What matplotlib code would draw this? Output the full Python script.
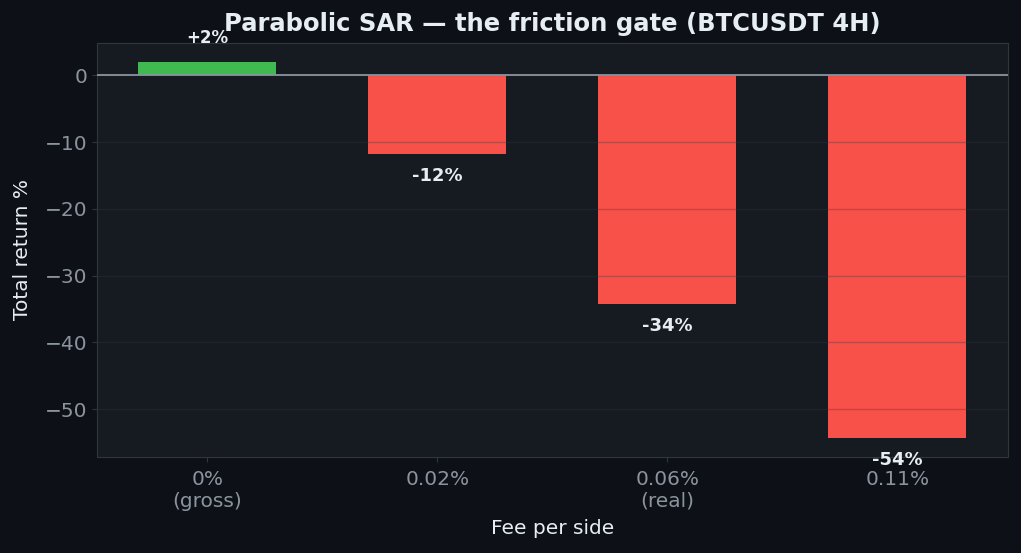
import matplotlib
matplotlib.use("Agg")
import matplotlib.pyplot as plt

categories = ["0%\n(gross)", "0.02%", "0.06%\n(real)", "0.11%"]
returns = [2.0, -11.8, -34.2, -54.3]
labels = ["+2%", "-12%", "-34%", "-54%"]

FIG_BG = "#0d1117"
AX_BG = "#161b22"
GREEN = "#3fb950"
RED = "#f85149"
TXT = "#e6edf3"
MUTED = "#8b949e"
EDGE = "#30363d"

fig = plt.figure(figsize=(10.21, 5.53), dpi=100, facecolor=FIG_BG)
ax = fig.add_axes([0.095, 0.174, 0.892, 0.748])
ax.set_facecolor(AX_BG)

x = list(range(len(categories)))
colors = [GREEN if v >= 0 else RED for v in returns]
ax.bar(x, returns, width=0.6, color=colors, zorder=1)
ax.axhline(0, color=MUTED, lw=1.3, zorder=3)
ax.grid(axis="y", color="#30363d", alpha=0.3, lw=1.0, zorder=2)
ax.set_axisbelow(False)
ax.xaxis.grid(False)

for xi, v, lab in zip(x, returns, labels):
    if v >= 0:
        ax.text(xi, v + 2.3, lab, ha="center", va="bottom", color=TXT,
                fontsize=12, fontweight="bold", zorder=4)
    else:
        ax.text(xi, v - 2.0, lab, ha="center", va="top", color=TXT,
                fontsize=13, fontweight="bold", zorder=4)

ax.set_xticks(x)
ax.set_xticklabels(categories, linespacing=1.2)
ax.tick_params(colors=MUTED, labelsize=14.5)
ax.tick_params(axis="x", pad=6)
ax.tick_params(axis="both", color=EDGE)
for s in ax.spines.values():
    s.set_color(EDGE)

ax.set_xlabel("Fee per side", color=TXT, fontsize=14.5, labelpad=6)
ax.set_ylabel("Total return %", color=TXT, fontsize=14.5, labelpad=9)
ax.set_title("Parabolic SAR — the friction gate (BTCUSDT 4H)", color=TXT,
             fontsize=17.5, fontweight="bold", pad=9)

fig.savefig("out.png", dpi=100, facecolor=FIG_BG)
